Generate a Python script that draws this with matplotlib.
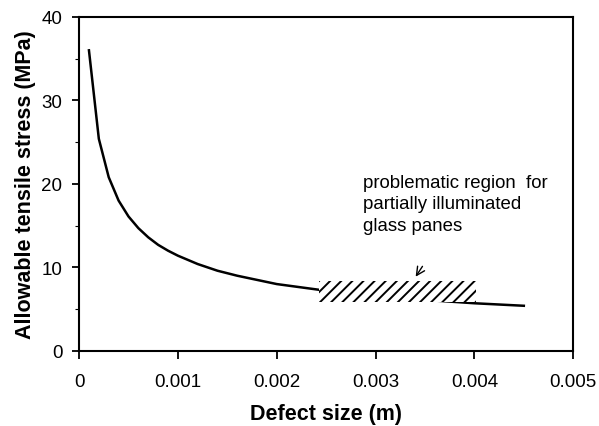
import matplotlib.pyplot as plt
from matplotlib.patches import Rectangle

plt.rcParams['font.family'] = ['Liberation Sans', 'DejaVu Sans']
plt.rcParams['hatch.linewidth'] = 1.4

# Defect size (m) and allowable tensile stress (MPa)
defect_size = [0.0001, 0.0002, 0.0003, 0.0004, 0.0005, 0.0006, 0.0007, 0.0008,
               0.0009, 0.0010, 0.0012, 0.0014, 0.0016, 0.0018, 0.0020, 0.0025,
               0.0030, 0.0035, 0.0040, 0.0045]
stress = [36.0, 25.4, 20.8, 18.0, 16.1, 14.7, 13.6, 12.7,
          12.0, 11.4, 10.4, 9.6, 9.0, 8.5, 8.0, 7.2,
          6.6, 6.1, 5.7, 5.4]

# problematic region (x range, y range)
region_x = [0.00243, 0.00402]
region_y = [5.9, 8.4]
note = 'problematic region  for\npartially illuminated\nglass panes'

fig = plt.figure(figsize=(5.99, 4.27), dpi=100)
ax = fig.add_axes([0.132, 0.176, 0.825, 0.782])

ax.plot(defect_size, stress, color='black', linewidth=1.8, zorder=2)

rect = Rectangle((region_x[0], region_y[0]), region_x[1] - region_x[0],
                 region_y[1] - region_y[0], facecolor='white', edgecolor='black',
                 linewidth=0, hatch='///', zorder=3)
ax.add_patch(rect)

ax.annotate('', xy=(0.00339, 8.6), xytext=(0.00349, 10.4),
            arrowprops=dict(arrowstyle='->', color='black', lw=1.0,
                            mutation_scale=15))
ax.text(0.00287, 17.6, note, fontsize=13.4, va='center', ha='left',
        linespacing=1.35)

ax.set_xlim(0, 0.005)
ax.set_ylim(0, 40)
ax.set_xticks([0, 0.001, 0.002, 0.003, 0.004, 0.005])
ax.set_xticklabels(['0', '0.001', '0.002', '0.003', '0.004', '0.005'])
ax.set_yticks([0, 10, 20, 30, 40])
ax.set_yticks([5, 15, 25, 35], minor=True)
ax.tick_params(axis='both', which='major', labelsize=13.5, width=1.3,
               direction='out')
ax.tick_params(axis='x', which='major', length=6, pad=10)
ax.tick_params(axis='y', which='major', length=5, pad=7)
ax.tick_params(axis='y', which='minor', length=3, width=0.8, direction='out')
for s in ax.spines.values():
    s.set_linewidth(1.5)

ax.set_xlabel('Defect size (m)', fontsize=15.5, fontweight='bold', labelpad=9)
ax.set_ylabel('Allowable tensile stress (MPa)', fontsize=15.5, fontweight='bold',
              labelpad=4)

plt.savefig('out.png', dpi=100)
